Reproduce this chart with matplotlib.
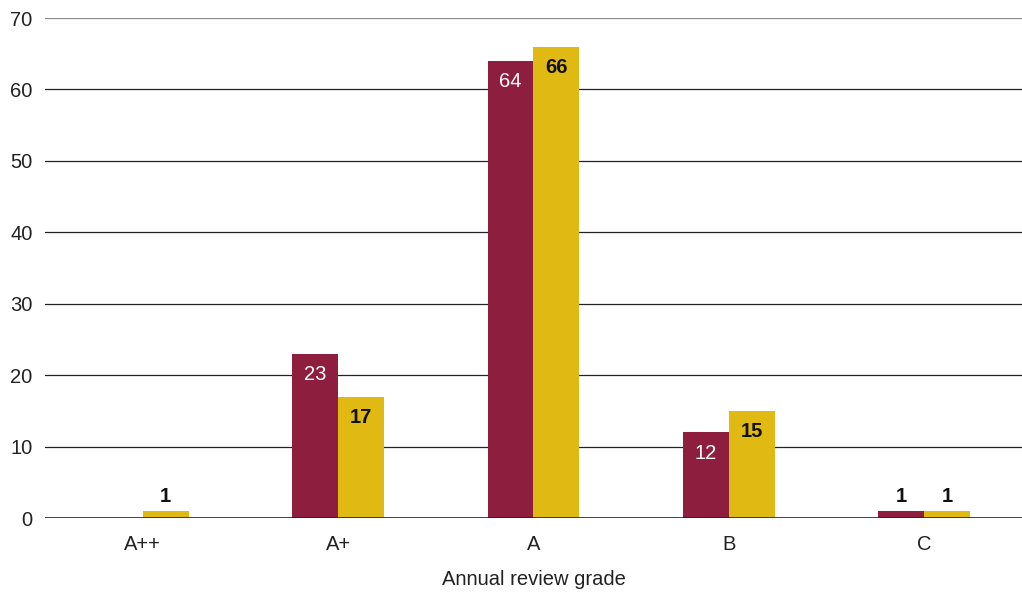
import matplotlib
matplotlib.use("Agg")
import matplotlib.pyplot as plt
import numpy as np

grades = ["A++", "A+", "A", "B", "C"]
series_a = [0, 23, 64, 12, 1]
series_b = [1, 17, 66, 15, 1]
yticks = [0, 10, 20, 30, 40, 50, 60, 70]

maroon = "#8E1E3D"
gold = "#E0B913"
fs = 14.5

plt.rcParams["font.family"] = ["Liberation Sans", "DejaVu Sans"]

fig = plt.figure(figsize=(10.22, 5.92), dpi=100)
ax = fig.add_axes([0.044, 0.125, 0.956, 0.8445])

x = np.arange(len(grades))
w = 0.235
bars_a = ax.bar(x - w / 2, series_a, w, color=maroon, zorder=3)
bars_b = ax.bar(x + w / 2, series_b, w, color=gold, zorder=3)

ax.set_xlim(-0.5, len(grades) - 0.5)
ax.set_ylim(0, 70)
ax.set_yticks(yticks)
ax.set_xticks(x)
ax.set_xticklabels(grades)
ax.tick_params(axis="both", length=0, labelsize=fs, colors="#222222")
ax.tick_params(axis="y", pad=9)
ax.tick_params(axis="x", pad=12)

for t in yticks[1:]:
    ax.axhline(t, color="#888888" if t == 70 else "#222222", lw=0.9, zorder=1)
for s in ax.spines.values():
    s.set_visible(False)
ax.axhline(0, color="#222222", lw=1.2, zorder=4)

ax.set_xlabel("Annual review grade", fontsize=fs, labelpad=12, color="#222222")


def label(bars, vals, inside_color, bold_inside):
    for b, v in zip(bars, vals):
        if v == 0:
            continue
        cx = b.get_x() + b.get_width() / 2
        if v >= 5:
            ax.annotate(str(v), (cx, v), xytext=(0, -15), textcoords="offset points",
                        ha="center", va="center", color=inside_color, fontsize=fs,
                        fontweight="bold" if bold_inside else "normal", zorder=5)
        else:
            ax.annotate(str(v), (cx, v), xytext=(0, 10.5), textcoords="offset points",
                        ha="center", va="center", color="#111111", fontsize=fs,
                        fontweight="bold", zorder=5)


label(bars_a, series_a, "white", False)
label(bars_b, series_b, "#111111", True)

fig.savefig("out.png", dpi=100)
